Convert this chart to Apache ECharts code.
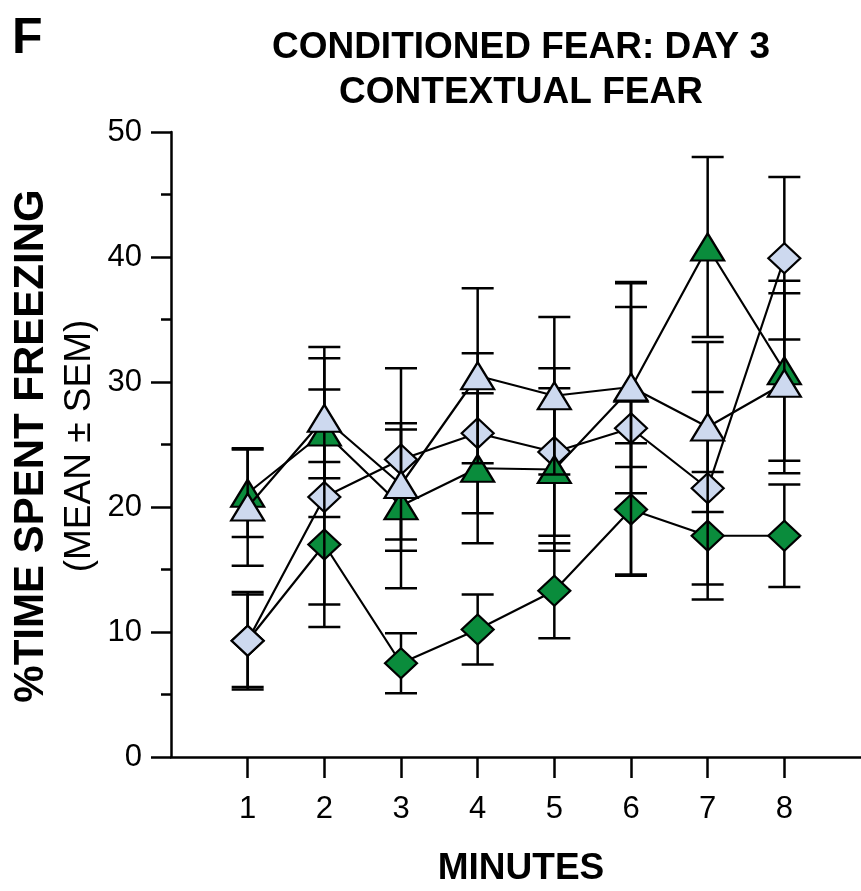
<!DOCTYPE html>
<html>
<head>
<meta charset="utf-8">
<script src="https://cdn.jsdelivr.net/npm/echarts@6/dist/echarts.min.js"></script>
<style>html,body{margin:0;padding:0;background:#fff;}#c{width:861px;height:891px;}</style>
</head>
<body>
<div id="c"></div>
<script>
var minutes = [1, 2, 3, 4, 5, 6, 7, 8];
var greenDiamondMean = [9.3, 17.0, 7.5, 10.2, 13.3, 19.8, 17.7, 17.7];
var greenDiamondSem  = [3.9, 6.6, 2.4, 2.8, 3.8, 5.3, 5.1, 4.1];
var blueDiamondMean  = [9.3, 20.8, 23.8, 25.9, 24.4, 26.3, 21.5, 39.9];
var blueDiamondSem   = [3.7, 8.6, 7.3, 6.4, 6.7, 11.7, 7.7, 6.5];
var greenTriMean     = [21.1, 26.0, 20.1, 23.1, 23.0, 29.5, 40.8, 30.9];
var greenTriSem      = [3.5, 6.8, 6.6, 6.0, 6.5, 8.4, 7.2, 7.2];
var blueTriMean      = [20.0, 27.1, 21.8, 30.5, 28.9, 29.6, 26.4, 29.9];
var blueTriSem       = [4.7, 4.8, 4.4, 7.0, 6.3, 6.4, 6.8, 7.2];
var yTicks = [0, 10, 20, 30, 40, 50];

var GREEN = '#0a8c3c', BLUE = '#cdd9ef';

function pts(mean) { return minutes.map(function (m, i) { return [m, mean[i]]; }); }
function errData(mean, sem) { return minutes.map(function (m, i) { return [m, mean[i] - sem[i], mean[i] + sem[i]]; }); }

function errSeries(mean, sem, z) {
  return {
    type: 'custom', z: z, silent: true,
    data: errData(mean, sem),
    renderItem: function (params, api) {
      var lo = api.coord([api.value(0), api.value(1)]);
      var hi = api.coord([api.value(0), api.value(2)]);
      var hw = 16;
      var st = { stroke: '#000', lineWidth: 2.5 };
      return { type: 'group', children: [
        { type: 'line', shape: { x1: lo[0], y1: lo[1], x2: hi[0], y2: hi[1] }, style: st },
        { type: 'line', shape: { x1: lo[0] - hw, y1: lo[1], x2: lo[0] + hw, y2: lo[1] }, style: st },
        { type: 'line', shape: { x1: hi[0] - hw, y1: hi[1], x2: hi[0] + hw, y2: hi[1] }, style: st }
      ]};
    }
  };
}
function lineSeries(mean, symbol, size, color, z) {
  return {
    type: 'line', z: z, data: pts(mean), symbol: symbol, symbolSize: size,
    showAllSymbol: true, animation: false,
    lineStyle: { color: '#000', width: 2.2 },
    itemStyle: { color: color, borderColor: '#000', borderWidth: 2.2 }
  };
}

var chart = echarts.init(document.getElementById('c'));
chart.setOption({
  animation: false,
  grid: { left: 171, right: 0, top: 132, bottom: 134, containLabel: false },
  xAxis: {
    type: 'value', min: 0, max: 9, interval: 1,
    axisLine: { lineStyle: { color: '#000', width: 2.5 } },
    axisTick: { show: true, length: 21, lineStyle: { color: '#000', width: 2.5 }, customValues: minutes },
    axisLabel: { color: '#000', fontSize: 31, fontFamily: 'Liberation Sans, Arial, sans-serif', margin: 37, customValues: minutes },
    splitLine: { show: false }
  },
  yAxis: {
    type: 'value', min: 0, max: 50, interval: 10,
    axisLine: { show: true, lineStyle: { color: '#000', width: 2.5 } },
    axisTick: { show: true, length: 20, lineStyle: { color: '#000', width: 2.5 }, customValues: yTicks },
    minorTick: { show: true, splitNumber: 2, length: 10, lineStyle: { color: '#000', width: 2.5 } },
    axisLabel: { color: '#000', fontSize: 31, fontFamily: 'Liberation Sans, Arial, sans-serif', margin: 29, customValues: yTicks },
    splitLine: { show: false }
  },
  graphic: [
    { type: 'text', left: 12, top: 14, style: { text: 'F', font: 'bold 50px "Liberation Sans", Arial, sans-serif', fill: '#000' } },
    { type: 'text', x: 521, y: 48, style: { text: 'CONDITIONED FEAR: DAY 3', font: 'bold 37px "Liberation Sans", Arial, sans-serif', fill: '#000', textAlign: 'center', textVerticalAlign: 'middle' } },
    { type: 'text', x: 521, y: 93, style: { text: 'CONTEXTUAL FEAR', font: 'bold 37px "Liberation Sans", Arial, sans-serif', fill: '#000', textAlign: 'center', textVerticalAlign: 'middle' } },
    { type: 'text', x: 31, y: 446, rotation: Math.PI / 2, style: { text: '%TIME SPENT FREEZING', font: 'bold 42px "Liberation Sans", Arial, sans-serif', fill: '#000', textAlign: 'center', textVerticalAlign: 'middle' } },
    { type: 'text', x: 80, y: 446, rotation: Math.PI / 2, style: { text: '(MEAN \u00b1 SEM)', font: '37px "Liberation Sans", Arial, sans-serif', fill: '#000', textAlign: 'center', textVerticalAlign: 'middle' } },
    { type: 'text', x: 521, y: 869, style: { text: 'MINUTES', font: 'bold 37px "Liberation Sans", Arial, sans-serif', fill: '#000', textAlign: 'center', textVerticalAlign: 'middle' } }
  ],
  series: [
    errSeries(greenDiamondMean, greenDiamondSem, 1),
    lineSeries(greenDiamondMean, 'diamond', [32, 30], GREEN, 2),
    errSeries(blueDiamondMean, blueDiamondSem, 3),
    lineSeries(blueDiamondMean, 'diamond', [32, 30], BLUE, 4),
    errSeries(greenTriMean, greenTriSem, 5),
    lineSeries(greenTriMean, 'triangle', [33, 27], GREEN, 6),
    errSeries(blueTriMean, blueTriSem, 7),
    lineSeries(blueTriMean, 'triangle', [33, 27], BLUE, 8)
  ]
});
</script>
</body>
</html>
